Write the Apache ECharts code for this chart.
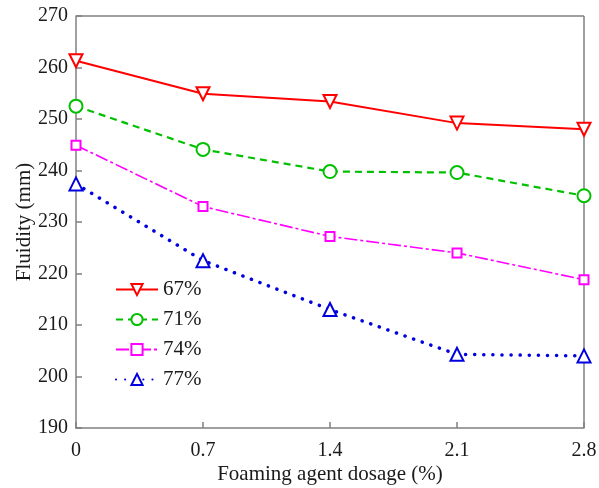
<!DOCTYPE html>
<html>
<head>
<meta charset="utf-8">
<script src="https://cdn.jsdelivr.net/npm/echarts@6/dist/echarts.min.js"></script>
<style>
  html, body { margin: 0; padding: 0; background: #fff; }
  #chart { width: 599px; height: 488px; }
</style>
</head>
<body>
<div id="chart"></div>
<script>
// Foaming agent dosage (%) on the x axis
var dosages = ['0', '0.7', '1.4', '2.1', '2.8'];

// Fluidity (mm) for each water-binder level
var fluidity67 = [261.3, 254.9, 253.4, 249.2, 248.0];
var fluidity71 = [252.5, 244.1, 239.8, 239.6, 235.1];
var fluidity74 = [244.9, 233.0, 227.2, 224.0, 218.8];
var fluidity77 = [237.4, 222.5, 213.0, 204.3, 204.0];

var seriesNames = ['67%', '71%', '74%', '77%'];

var axisGrey = '#808080';
var textColor = '#1a1a1a';
var fontFamily = '"Liberation Serif", "Times New Roman", serif';

function lineSeries(name, data, color, symbol, symbolSize, rotate, lineType, width, cap) {
  return {
    name: name,
    type: 'line',
    data: data,
    symbol: symbol,
    symbolSize: symbolSize,
    symbolRotate: rotate,
    showAllSymbol: true,
    itemStyle: { color: '#fff', borderColor: color, borderWidth: 2 },
    lineStyle: { color: color, width: width, type: lineType, cap: cap || 'butt' },
    emphasis: { disabled: true },
    z: 3
  };
}

var chart = echarts.init(document.getElementById('chart'), null, { renderer: 'canvas' });

chart.setOption({
  animation: false,
  backgroundColor: '#fff',
  grid: { left: 76, right: 15, top: 16, bottom: 60, show: false, containLabel: false, outerBoundsMode: 'none' },
  legend: {
    left: 110,
    top: 274,
    orient: 'vertical',
    itemWidth: 42,
    itemHeight: 14,
    itemGap: 9,
    data: seriesNames,
    textStyle: { fontFamily: fontFamily, fontSize: 21, color: textColor }
  },
  xAxis: {
    type: 'category',
    data: dosages,
    boundaryGap: false,
    name: 'Foaming agent dosage (%)',
    nameLocation: 'middle',
    nameGap: 36,
    nameMoveOverlap: false,
    nameTextStyle: { fontFamily: fontFamily, fontSize: 21, color: textColor },
    axisLine: { show: true, lineStyle: { color: axisGrey, width: 1.5 } },
    axisTick: { show: true, inside: true, length: 6, alignWithLabel: true, lineStyle: { color: axisGrey, width: 1.5 } },
    axisLabel: { fontFamily: fontFamily, fontSize: 20, color: textColor, margin: 13 },
    splitLine: { show: false }
  },
  yAxis: {
    type: 'value',
    min: 190,
    max: 270,
    interval: 10,
    name: 'Fluidity (mm)',
    nameLocation: 'middle',
    nameGap: 41,
    nameMoveOverlap: false,
    nameRotate: 90,
    nameTextStyle: { fontFamily: fontFamily, fontSize: 21, color: textColor },
    axisLine: { show: true, lineStyle: { color: axisGrey, width: 1.5 } },
    axisTick: { show: true, inside: true, length: 6, lineStyle: { color: axisGrey, width: 1.5 } },
    axisLabel: { fontFamily: fontFamily, fontSize: 20, color: textColor, margin: 8 },
    splitLine: { show: false }
  },
  series: [
    lineSeries(seriesNames[0], fluidity67, '#ff0000', 'triangle', 13, 180, 'solid', 2),
    lineSeries(seriesNames[1], fluidity71, '#00c000', 'circle', 13, 0, [7, 5], 2.2),
    lineSeries(seriesNames[2], fluidity74, '#ff00ff', 'rect', 9, 0, [13, 3, 3, 3], 1.6),
    lineSeries(seriesNames[3], fluidity77, '#0000e0', 'triangle', 13, 0, [0.1, 9], 3.5, 'round')
  ],
  graphic: [
    // top and right frame lines
    { type: 'line', shape: { x1: 76, y1: 16, x2: 584, y2: 16 }, style: { stroke: axisGrey, lineWidth: 1.5 }, z: 1 },
    { type: 'line', shape: { x1: 584, y1: 16, x2: 584, y2: 428 }, style: { stroke: axisGrey, lineWidth: 1.5 }, z: 1 }
  ]
});
</script>
</body>
</html>
